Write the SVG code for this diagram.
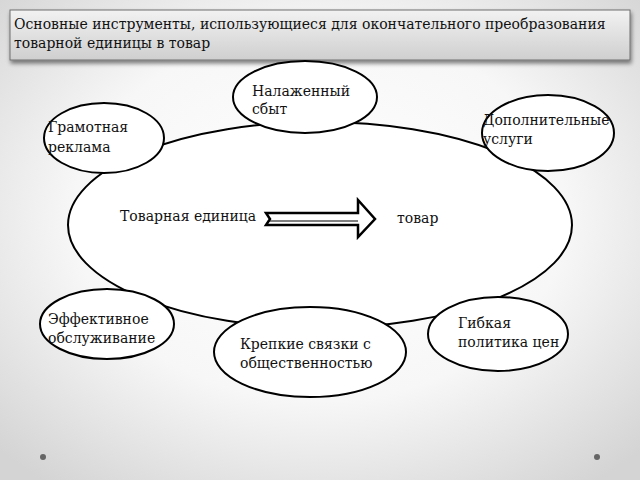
<svg xmlns="http://www.w3.org/2000/svg" width="640" height="480" viewBox="0 0 640 480">
<defs>
<radialGradient id="bg" cx="50%" cy="45%" r="70%">
<stop offset="0" stop-color="#ffffff"/>
<stop offset="0.55" stop-color="#f7f7f7"/>
<stop offset="1" stop-color="#d4d4d4"/>
</radialGradient>
<linearGradient id="tb" x1="0" y1="0" x2="0" y2="1">
<stop offset="0" stop-color="#f2f2f2"/>
<stop offset="1" stop-color="#cfcfcf"/>
</linearGradient>
<filter id="sh" x="-5%" y="-20%" width="110%" height="160%">
<feGaussianBlur in="SourceAlpha" stdDeviation="2"/>
<feOffset dx="1" dy="3" result="b"/>
<feComponentTransfer><feFuncA type="linear" slope="0.5"/></feComponentTransfer>
<feMerge><feMergeNode/><feMergeNode in="SourceGraphic"/></feMerge>
</filter>
</defs>
<style>
.t{font-family:"DejaVu Serif","Liberation Serif",serif;font-size:14px;fill:#111}
.e{fill:#fff;stroke:#000;stroke-width:2}
.dot{fill:#666}
</style>
<rect x="0" y="0" width="640" height="480" fill="url(#bg)"/>
<g id="title">
<rect x="10" y="10" width="620" height="50" fill="url(#tb)" stroke="#6e6e6e" stroke-width="1" filter="url(#sh)"/>
<text class="t" x="14" y="29">Основные инструменты, использующиеся для окончательного преобразования</text>
<text class="t" x="14" y="48">товарной единицы в товар</text>
</g>
<g id="main">
<ellipse class="e" cx="320" cy="225" rx="252" ry="103"/>
<text class="t" x="120" y="221">Товарная единица</text>
<text class="t" x="397" y="223">товар</text>
</g>
<g id="connectors">
<path d="M266,213 L358,213 L358,200 L375,219 L358,237 L358,225 L266,225 L270,219 Z" fill="#fff" stroke="#000" stroke-width="2.5" stroke-linejoin="miter"/>
<path d="M269,221 L358,221" fill="none" stroke="#000" stroke-width="1"/>
</g>
<g id="n1">
<ellipse class="e" cx="104" cy="138" rx="60" ry="35"/>
<text class="t" x="48" y="132">Грамотная</text>
<text class="t" x="48" y="152">реклама</text>
</g>
<g id="n2">
<ellipse class="e" cx="305" cy="97" rx="72" ry="36"/>
<text class="t" x="252" y="96">Налаженный</text>
<text class="t" x="252" y="114">сбыт</text>
</g>
<g id="n3">
<ellipse class="e" cx="548" cy="133" rx="66" ry="38"/>
<text class="t" x="483" y="125">Дополнительные</text>
<text class="t" x="483" y="144">услуги</text>
</g>
<g id="n4">
<ellipse class="e" cx="107" cy="324" rx="67" ry="35"/>
<text class="t" x="48" y="324">Эффективное</text>
<text class="t" x="48" y="343">обслуживание</text>
</g>
<g id="n5">
<ellipse class="e" cx="310" cy="352" rx="96" ry="45"/>
<text class="t" x="240" y="349">Крепкие связки с</text>
<text class="t" x="240" y="368">общественностью</text>
</g>
<g id="n6">
<ellipse class="e" cx="498" cy="334" rx="70" ry="37"/>
<text class="t" x="458" y="328">Гибкая</text>
<text class="t" x="458" y="347">политика цен</text>
</g>
<circle class="dot" cx="43" cy="457" r="3"/>
<circle class="dot" cx="597" cy="457" r="3"/>
</svg>
